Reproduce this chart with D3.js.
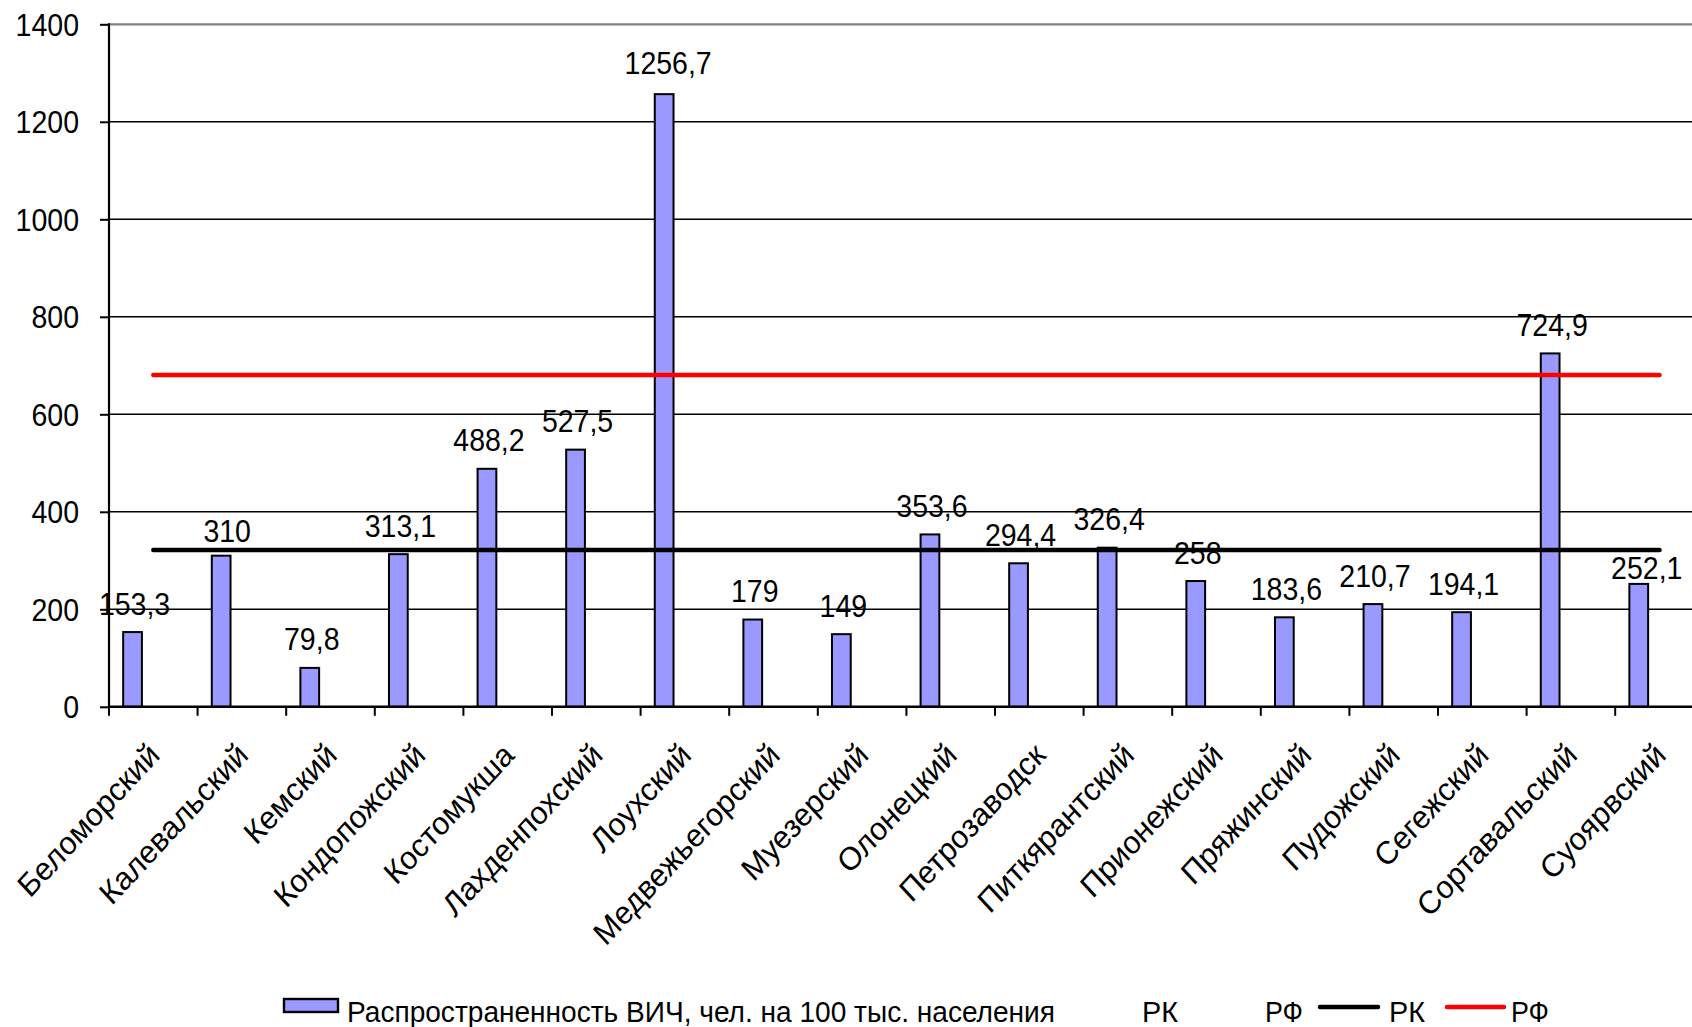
<!DOCTYPE html>
<html><head><meta charset="utf-8">
<script src="https://cdn.jsdelivr.net/npm/d3@7"></script>
<style>
body{margin:0;background:#fff}
svg{display:block}
text{font-family:"Liberation Sans",Arial,sans-serif;fill:#000}
</style>
</head><body>
<svg id="c" width="1692" height="1027"></svg>
<script>
const categories = ["Беломорский","Калевальский","Кемский","Кондопожский","Костомукша","Лахденпохский","Лоухский","Медвежьегорский","Муезерский","Олонецкий","Петрозаводск","Питкярантский","Прионежский","Пряжинский","Пудожский","Сегежский","Сортавальский","Суоярвский"];
const prevalence = [153.3,310,79.8,313.1,488.2,527.5,1256.7,179,149,353.6,294.4,326.4,258,183.6,210.7,194.1,724.9,252.1];
const rkLevel = [321.6];
const rfLevel = [680.6];
const yTicks = [0,200,400,600,800,1000,1200,1400];
const seriesNames = ["Распространенность ВИЧ, чел. на 100 тыс. населения","РК","РФ"];
const lineNames = ["РК","РФ"];

{
const svg = d3.select("#c");
const pLeft = 109, pTop = 24.3, pBottom = 706.8, step = 88.6;
const pRight = pLeft + step * categories.length;
const SY = 1.08; // vertical text stretch seen in the reference

const x = d3.scaleBand().domain(categories).range([pLeft, pRight]).padding(0);
const bw = x.bandwidth();
const x1 = d3.scaleBand().domain(seriesNames).range([0, bw]).paddingInner(0).paddingOuter(0.635);
const y = d3.scaleLinear().domain([0, 1400]).range([pBottom, pTop]);
const fmt = v => String(v).replace(".", ",");

// gridlines
svg.append("g").selectAll("line").data(yTicks.filter(t => t > 0)).join("line")
  .attr("x1", pLeft).attr("x2", 1692)
  .attr("y1", d => y(d)).attr("y2", d => y(d))
  .attr("stroke", d => d === 1400 ? "#808080" : "#000")
  .attr("stroke-width", d => d === 1400 ? 2.2 : 1.6);

// y axis (ticks via d3 axis, labels drawn with stretch)
const yAxis = d3.axisLeft(y).tickValues(yTicks).tickSize(9).tickFormat("");
const gy = svg.append("g").attr("transform", `translate(${pLeft},0)`).call(yAxis);
gy.select(".domain").remove();
gy.selectAll(".tick line").attr("stroke", "#000").attr("stroke-width", 2);
svg.append("g").selectAll("text").data(yTicks).join("text")
  .attr("transform", d => `translate(79,${y(d) + 11.5}) scale(1,${SY})`)
  .attr("text-anchor", "end").attr("font-size", 28.5)
  .text(d3.format("d"));
svg.append("line").attr("x1", pLeft).attr("x2", pLeft).attr("y1", pTop - 1).attr("y2", pBottom + 1).attr("stroke", "#000").attr("stroke-width", 2.2);

// bars
svg.append("g").selectAll("rect").data(prevalence).join("rect")
  .attr("x", (d, i) => x(categories[i]) + x1(seriesNames[0]) + 1)
  .attr("width", x1.bandwidth() - 2)
  .attr("y", d => y(d))
  .attr("height", d => pBottom - y(d))
  .attr("fill", "#9999FF").attr("stroke", "#000").attr("stroke-width", 2);

// x axis
const gx = svg.append("g");
gx.append("line").attr("x1", pLeft).attr("x2", 1692).attr("y1", pBottom).attr("y2", pBottom).attr("stroke", "#000").attr("stroke-width", 2.4);
const bounds = categories.map(c => x(c)).concat([pRight]);
gx.selectAll("line.tk").data(bounds).join("line").attr("class", "tk")
  .attr("x1", d => d).attr("x2", d => d).attr("y1", pBottom).attr("y2", pBottom + 9)
  .attr("stroke", "#000").attr("stroke-width", 2);
gx.selectAll("text").data(categories).join("text")
  .attr("transform", d => `translate(${x(d) + bw / 2 + 8},757) scale(1,${SY}) rotate(-45)`)
  .attr("text-anchor", "end").attr("font-size", 30)
  .text(d => d);

// reference lines
const xs = x(categories[0]) + bw / 2, xe = x(categories[categories.length - 1]) + bw / 2;
[[rkLevel[0], "#000"], [rfLevel[0], "#FF0000"]].forEach(([v, c]) => {
  svg.append("line").attr("x1", xs).attr("x2", xe).attr("y1", y(v)).attr("y2", y(v))
    .attr("stroke", c).attr("stroke-width", 4.5).attr("stroke-linecap", "round");
});

// data labels
const nudge = {1: [4, 4], 6: [2, -3], 17: [6, 13]};
svg.append("g").selectAll("text").data(prevalence).join("text")
  .attr("transform", (d, i) => {
    const lx = x(categories[i]) + x1(seriesNames[0]) + x1.bandwidth() / 2 + 2 + (nudge[i] ? nudge[i][0] : 0);
    const ly = y(d) - 17.5 + (nudge[i] ? nudge[i][1] : 0);
    return `translate(${lx},${ly}) scale(1,${SY})`;
  })
  .attr("text-anchor", "middle").attr("font-size", 28.5)
  .text(d => fmt(d));

// legend
const lg = svg.append("g");
const legText = (tx, len, s) => lg.append("text")
  .attr("transform", `translate(${tx},1022) scale(1,${SY})`)
  .attr("font-size", 28).attr("textLength", len).attr("lengthAdjust", "spacingAndGlyphs").text(s);
lg.append("rect").attr("x", 284).attr("y", 999).attr("width", 54).attr("height", 13)
  .attr("fill", "#9999FF").attr("stroke", "#000").attr("stroke-width", 2.4);
legText(347, 708, seriesNames[0]);
legText(1142, 36, seriesNames[1]);
legText(1265, 38, seriesNames[2]);
lg.append("line").attr("x1", 1320).attr("x2", 1378).attr("y1", 1007).attr("y2", 1007).attr("stroke", "#000").attr("stroke-width", 4.5).attr("stroke-linecap", "round");
legText(1389, 36, lineNames[0]);
lg.append("line").attr("x1", 1447).attr("x2", 1504).attr("y1", 1007).attr("y2", 1007).attr("stroke", "#FF0000").attr("stroke-width", 4.5).attr("stroke-linecap", "round");
legText(1511, 38, lineNames[1]);
}
</script>
</body></html>
